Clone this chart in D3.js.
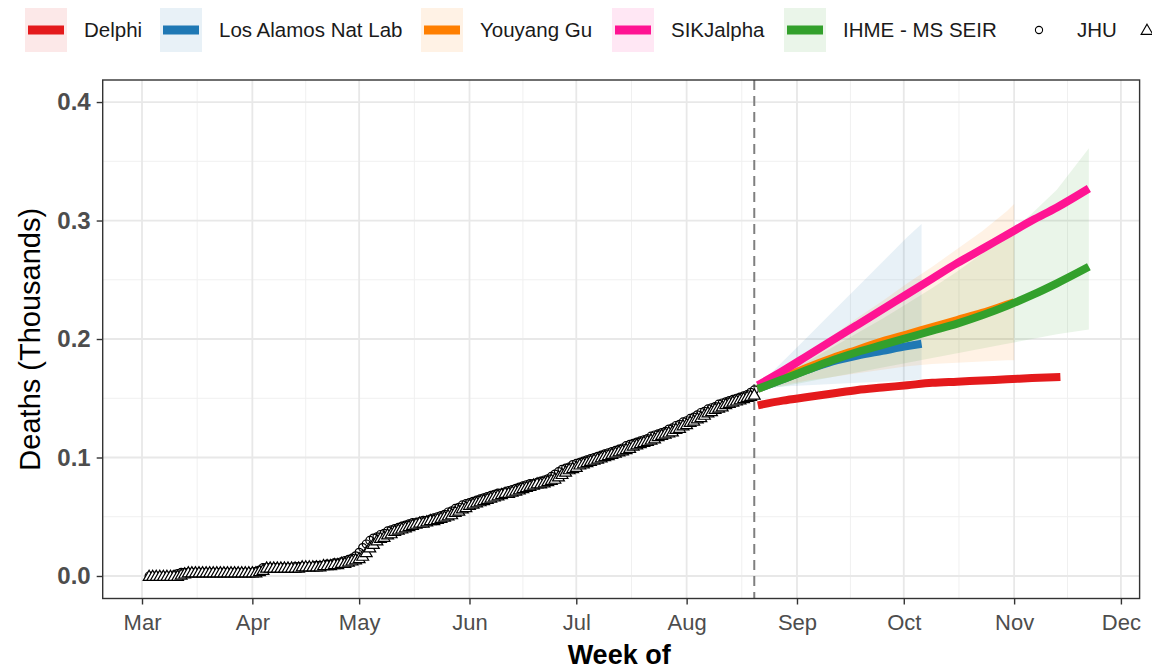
<!DOCTYPE html>
<html>
<head>
<meta charset="utf-8">
<script src="https://cdn.jsdelivr.net/npm/d3@7"></script>
<style>
  html, body { margin: 0; padding: 0; background: #fff; }
  svg { display: block; font-family: "Liberation Sans", Arial, sans-serif; }
</style>
</head>
<body>
<svg id="chart" width="1152" height="669"></svg>
<script>
// ---------------- DATA ----------------
const monthTicks = ["2020-03-01","2020-04-01","2020-05-01","2020-06-01","2020-07-01","2020-08-01","2020-09-01","2020-10-01","2020-11-01","2020-12-01"];
const yTicks = [0, 0.1, 0.2, 0.3, 0.4];
const forecastStart = "2020-08-20";

// Observed cumulative deaths (count), daily from 2020-03-03 to 2020-08-20
const observedStart = "2020-03-03";
const jhuDeaths = [
  // Mar 3-31
  0,0,0,0,0,0,0,1,2,3,3,3,3,3,3,3,3,3,3,3,3,3,3,3,3,3,3,3,3,
  // Apr
  3,4,5,7,7,7,7,7,7,7,7,7,8,8,8,8,8,8,9,9,9,10,10,11,11,12,13,14,15,17,
  // May
  20,24,27,30,32,33,35,36,38,39,40,41,42,43,44,45,45,46,47,47,48,49,50,51,52,54,55,57,58,60,61,
  // Jun
  62,63,64,65,66,67,68,69,70,70,71,72,73,74,75,76,77,78,78,79,80,81,82,84,86,88,90,91,92,94,
  // Jul
  95,96,97,98,99,100,101,102,103,104,105,106,107,108,110,111,112,113,114,115,116,118,119,120,121,122,124,125,127,128,130,
  // Aug 1-20
  131,133,134,136,138,139,141,142,143,145,146,147,148,149,150,151,152,153,155,157
];
const secondDeaths = [
  0,0,0,0,0,0,0,0,0,1,2,3,3,3,3,3,3,3,3,3,3,3,3,3,3,3,3,3,3,
  3,3,4,5,7,7,7,7,7,7,7,7,7,7,8,8,8,8,8,8,9,9,9,10,10,11,11,12,13,14,
  15,17,20,24,27,30,32,33,35,36,38,39,40,41,42,43,44,45,45,46,47,47,48,49,50,51,52,54,55,57,58,
  60,61,62,63,64,65,66,67,68,69,70,70,71,72,73,74,75,76,77,78,78,79,80,81,82,84,86,88,90,91,
  92,94,95,96,97,98,99,100,101,102,103,104,105,106,107,108,110,111,112,113,114,115,116,118,119,120,121,122,124,125,127,
  128,130,131,133,134,136,138,139,141,142,143,145,146,147,148,149,150,151,152,153
];

// Forecasts (thousands)
const forecastWeeks = ["2020-08-21","2020-08-28","2020-09-04","2020-09-11","2020-09-18","2020-09-25","2020-10-02","2020-10-09","2020-10-16","2020-10-23","2020-10-30","2020-11-06","2020-11-13","2020-11-22"];

const delphiDates = ["2020-08-21","2020-08-28","2020-09-04","2020-09-11","2020-09-18","2020-09-25","2020-10-02","2020-10-09","2020-10-16","2020-10-23","2020-10-30","2020-11-06","2020-11-14"];
const delphiMean  = [0.144,0.148,0.151,0.154,0.157,0.159,0.161,0.163,0.164,0.165,0.166,0.167,0.168];

const lanlDates = ["2020-08-21","2020-08-28","2020-09-04","2020-09-11","2020-09-18","2020-09-25","2020-10-02","2020-10-06"];
const lanlMean  = [0.158,0.166,0.174,0.181,0.186,0.190,0.194,0.196];
const lanlLower = [0.158,0.160,0.161,0.162,0.163,0.164,0.165,0.166];
const lanlUpper = [0.160,0.181,0.202,0.223,0.244,0.265,0.286,0.297];

const ygDates = ["2020-08-21","2020-08-28","2020-09-04","2020-09-11","2020-09-18","2020-09-25","2020-10-02","2020-10-09","2020-10-16","2020-10-23","2020-10-30","2020-11-01"];
const ygMean  = [0.158,0.167,0.176,0.184,0.191,0.198,0.204,0.210,0.216,0.222,0.229,0.231];
const ygLower = [0.157,0.161,0.165,0.168,0.171,0.174,0.177,0.179,0.180,0.181,0.182,0.182];
const ygUpper = [0.160,0.174,0.189,0.203,0.218,0.232,0.247,0.261,0.276,0.291,0.308,0.314];

const sikMean = [0.161,0.173,0.186,0.199,0.212,0.225,0.238,0.251,0.264,0.276,0.288,0.300,0.311,0.327];

const ihmeMean  = [0.158,0.166,0.174,0.182,0.189,0.195,0.201,0.207,0.213,0.220,0.228,0.237,0.247,0.261];
const ihmeLower = [0.157,0.160,0.164,0.168,0.172,0.176,0.180,0.184,0.188,0.192,0.196,0.200,0.204,0.208];
const ihmeUpper = [0.159,0.170,0.181,0.193,0.205,0.217,0.230,0.243,0.257,0.272,0.288,0.306,0.326,0.361];

const modelNames  = ["Delphi","Los Alamos Nat Lab","Youyang Gu","SIKJalpha","IHME - MS SEIR"];
const modelColors = ["#E41A1C","#1F78B4","#FF7F00","#FF1493","#33A02C"];

// ---------------- LAYOUT ----------------
const svg = d3.select("#chart");
const W = 1152, H = 669;
const panel = { left: 102.7, right: 1139.6, top: 80, bottom: 598.5 };
const parse = d3.utcParse("%Y-%m-%d");

const x = d3.scaleUtc()
  .domain([new Date(Date.UTC(2020,1,18,23)), new Date(Date.UTC(2020,11,6,6))])
  .range([panel.left, panel.right]);
const y = d3.scaleLinear()
  .domain([-0.019, 0.4186])
  .range([panel.bottom, panel.top]);

svg.append("rect").attr("width", W).attr("height", H).attr("fill", "#fff");

// grid
const g = svg.append("g");
const mTicks = monthTicks.map(parse);
const minorX = d3.pairs(mTicks).map(([a,b]) => new Date((a.getTime()+b.getTime())/2));
const minorY = d3.pairs(yTicks).map(([a,b]) => (a+b)/2);

g.selectAll(".mnx").data(minorX).join("line")
  .attr("x1", d => x(d)).attr("x2", d => x(d))
  .attr("y1", panel.top).attr("y2", panel.bottom)
  .attr("stroke", "#F0F0F0").attr("stroke-width", 1);
g.selectAll(".mny").data(minorY).join("line")
  .attr("x1", panel.left).attr("x2", panel.right)
  .attr("y1", d => y(d)).attr("y2", d => y(d))
  .attr("stroke", "#F0F0F0").attr("stroke-width", 1);
g.selectAll(".mjx").data(mTicks).join("line")
  .attr("x1", d => x(d)).attr("x2", d => x(d))
  .attr("y1", panel.top).attr("y2", panel.bottom)
  .attr("stroke", "#E8E8E8").attr("stroke-width", 1.8);
g.selectAll(".mjy").data(yTicks).join("line")
  .attr("x1", panel.left).attr("x2", panel.right)
  .attr("y1", d => y(d)).attr("y2", d => y(d))
  .attr("stroke", "#E8E8E8").attr("stroke-width", 1.8);

// clip
svg.append("clipPath").attr("id", "clip").append("rect")
  .attr("x", panel.left).attr("y", panel.top)
  .attr("width", panel.right - panel.left).attr("height", panel.bottom - panel.top);
const plot = svg.append("g").attr("clip-path", "url(#clip)");

// ribbons
const area = d3.area().x(d => x(d.date)).y0(d => y(d.lo)).y1(d => y(d.hi));
function ribbon(dates, lo, hi, color) {
  const data = dates.map((d, i) => ({ date: parse(d), lo: lo[i], hi: hi[i] }));
  plot.append("path").datum(data).attr("d", area)
    .attr("fill", color).attr("fill-opacity", 0.1);
}
ribbon(lanlDates, lanlLower, lanlUpper, modelColors[1]);
ribbon(ygDates, ygLower, ygUpper, modelColors[2]);
ribbon(forecastWeeks, ihmeLower, ihmeUpper, modelColors[4]);

// vertical dashed line
plot.append("line")
  .attr("x1", x(parse(forecastStart))).attr("x2", x(parse(forecastStart)))
  .attr("y1", panel.top).attr("y2", panel.bottom)
  .attr("stroke", "#7F7F7F").attr("stroke-width", 2)
  .attr("stroke-dasharray", "10,6");

// observed points
const obs0 = parse(observedStart);
const jhuData = jhuDeaths.map((v, i) => ({ date: d3.utcDay.offset(obs0, i), v: v / 1000 }));
const secData = secondDeaths.map((v, i) => ({ date: d3.utcDay.offset(obs0, i), v: v / 1000 }));

plot.selectAll(".jhu").data(jhuData).join("circle")
  .attr("cx", d => x(d.date)).attr("cy", d => y(d.v)).attr("r", 4)
  .attr("fill", "none").attr("stroke", "#000").attr("stroke-width", 1.2);
const tri = d3.symbol().type(d3.symbolTriangle).size(60);
plot.selectAll(".sec").data(secData).join("path")
  .attr("d", tri)
  .attr("transform", d => `translate(${x(d.date)},${y(d.v) + 1})`)
  .attr("fill", "#fff").attr("stroke", "#000").attr("stroke-width", 1.2);

// forecast lines
const line = d3.line().x(d => x(d.date)).y(d => y(d.v)).curve(d3.curveMonotoneX);
function fline(dates, vals, color, w) {
  const data = dates.map((d, i) => ({ date: parse(d), v: vals[i] }));
  plot.append("path").datum(data).attr("d", line)
    .attr("fill", "none").attr("stroke", color).attr("stroke-width", w)
    .attr("stroke-linejoin", "round");
}
fline(delphiDates, delphiMean, modelColors[0], 8);
fline(lanlDates, lanlMean, modelColors[1], 8);
fline(ygDates, ygMean, modelColors[2], 8);
fline(forecastWeeks, sikMean, modelColors[3], 8);
fline(forecastWeeks, ihmeMean, modelColors[4], 8);

// panel border
svg.append("rect")
  .attr("x", panel.left).attr("y", panel.top)
  .attr("width", panel.right - panel.left).attr("height", panel.bottom - panel.top)
  .attr("fill", "none").attr("stroke", "#333").attr("stroke-width", 1.4);

// axes
const xAxis = d3.axisBottom(x).tickValues(mTicks).tickFormat(d3.utcFormat("%b")).tickSize(6).tickPadding(10);
const xg = svg.append("g").attr("transform", `translate(0,${panel.bottom})`).call(xAxis);
xg.select(".domain").remove();
xg.selectAll(".tick line").attr("stroke", "#333").attr("stroke-width", 1.4);
xg.selectAll(".tick text").attr("fill", "#4D4D4D").style("font-size", "22px")
  .style("font-family", "'Liberation Sans', Arial, sans-serif");

const yAxis = d3.axisLeft(y).tickValues(yTicks).tickFormat(d3.format(".1f")).tickSize(6).tickPadding(6);
const yg = svg.append("g").attr("transform", `translate(${panel.left},0)`).call(yAxis);
yg.select(".domain").remove();
yg.selectAll(".tick line").attr("stroke", "#333").attr("stroke-width", 1.4);
yg.selectAll(".tick text").attr("fill", "#4D4D4D").style("font-size", "24px").style("font-weight", "bold")
  .style("font-family", "'Liberation Sans', Arial, sans-serif");

// axis titles
svg.append("text")
  .attr("transform", `translate(40,${(panel.top + panel.bottom) / 2}) rotate(-90)`)
  .attr("text-anchor", "middle").attr("fill", "#000")
  .style("font-size", "29px").text("Deaths (Thousands)");
svg.append("text")
  .attr("x", (panel.left + panel.right) / 2 - 2).attr("y", 664)
  .attr("text-anchor", "middle").attr("fill", "#000")
  .style("font-size", "27px").style("font-weight", "bold").text("Week of");

// legend
const legendX = [25, 160, 421, 612, 784];
const lg = svg.append("g");
modelNames.forEach((name, i) => {
  const lx = legendX[i];
  lg.append("rect").attr("x", lx).attr("y", 8).attr("width", 42).attr("height", 44)
    .attr("fill", modelColors[i]).attr("fill-opacity", 0.1);
  lg.append("line").attr("x1", lx + 3).attr("x2", lx + 39).attr("y1", 30).attr("y2", 30)
    .attr("stroke", modelColors[i]).attr("stroke-width", 9);
  lg.append("text").attr("x", lx + 59).attr("y", 37).attr("fill", "#1A1A1A")
    .style("font-size", "20.5px").text(name);
});
lg.append("circle").attr("cx", 1039).attr("cy", 30).attr("r", 3.6)
  .attr("fill", "none").attr("stroke", "#000").attr("stroke-width", 1.1);
lg.append("text").attr("x", 1077).attr("y", 37).attr("fill", "#1A1A1A")
  .style("font-size", "20.5px").text("JHU");
lg.append("path").attr("d", tri).attr("transform", "translate(1147,31)")
  .attr("fill", "#fff").attr("stroke", "#000").attr("stroke-width", 1.1);
</script>
</body>
</html>
